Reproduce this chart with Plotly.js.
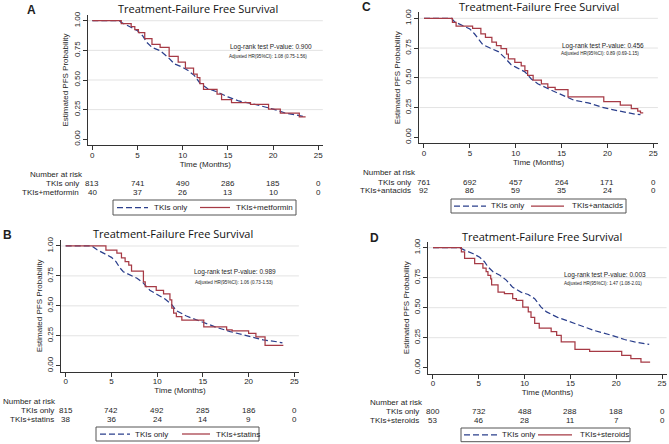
<!DOCTYPE html>
<html>
<head>
<meta charset="utf-8">
<script src="https://cdn.plot.ly/plotly-3.0.1.min.js"></script>
<style>html,body{margin:0;padding:0;background:#fff}#chart{width:669px;height:444px}</style>
</head>
<body>
<div id="chart"></div>
<script>
// ---------- DATA ----------
const timeTicks = [0, 5, 10, 15, 20, 25];
const probTicks = [0, 0.25, 0.5, 0.75, 1];
const probTickText = ['0.00', '0.25', '0.50', '0.75', '1.00'];
const gridVals = [0.25, 0.5, 0.75, 1];

// Panel A: TKIs only vs TKIs+metformin
const A_only_t = [0, 3.0, 3.2, 4.0, 5.0, 5.6, 6.0, 6.6, 7.5, 8.4, 9.1, 10.0, 10.6, 11.3, 11.9, 12.7, 13.8, 15.0, 16.2, 17.7, 18.8, 20.0, 21.4, 22.5, 23.6];
const A_only_s = [1, 1, 0.986, 0.952, 0.916, 0.87, 0.82, 0.775, 0.747, 0.69, 0.635, 0.607, 0.58, 0.537, 0.475, 0.43, 0.40, 0.357, 0.323, 0.30, 0.278, 0.255, 0.22, 0.205, 0.19];
const A_drug_t = [0, 3.2, 4.3, 4.7, 5.1, 5.8, 6.6, 7.5, 8.5, 9.5, 10.3, 11.2, 11.6, 11.9, 12.3, 13.8, 14.3, 15.4, 17.5, 19.5, 20.8, 22.9, 23.6];
const A_drug_s = [1, 0.975, 0.95, 0.925, 0.90, 0.85, 0.80, 0.775, 0.70, 0.65, 0.60, 0.55, 0.52, 0.47, 0.42, 0.38, 0.335, 0.31, 0.295, 0.255, 0.22, 0.19, 0.19];
const A_risk_only = [813, 741, 490, 286, 185, 0];
const A_risk_drug = [40, 37, 26, 13, 10, 0];

// Panel B: TKIs only vs TKIs+statins
const B_only_t = [0, 2.85, 3.4, 4.1, 5.0, 5.5, 5.9, 6.3, 7.0, 7.8, 8.5, 9.2, 10.0, 10.9, 11.6, 12.1, 13.2, 15.0, 16.5, 18.0, 20.0, 21.6, 23.1, 23.7];
const B_only_s = [1, 1, 0.97, 0.94, 0.905, 0.87, 0.82, 0.785, 0.76, 0.73, 0.69, 0.63, 0.595, 0.555, 0.51, 0.46, 0.415, 0.36, 0.32, 0.285, 0.245, 0.215, 0.20, 0.19];
const B_drug_t = [0, 4.4, 5.6, 6.1, 6.5, 6.9, 7.2, 8.5, 8.7, 9.9, 10.7, 11.4, 11.6, 11.8, 12.1, 12.7, 15.1, 17.6, 18.2, 20.0, 20.8, 21.8, 23.8];
const B_drug_s = [1, 0.965, 0.94, 0.90, 0.87, 0.84, 0.79, 0.70, 0.66, 0.63, 0.60, 0.55, 0.48, 0.44, 0.41, 0.38, 0.325, 0.30, 0.29, 0.27, 0.24, 0.17, 0.17];
const B_risk_only = [815, 742, 492, 285, 186, 0];
const B_risk_drug = [38, 36, 24, 14, 9, 0];

// Panel C: TKIs only vs TKIs+antacids
const C_only_t = [0, 3.0, 3.35, 4.1, 5.0, 5.5, 5.9, 6.4, 7.2, 8.1, 8.8, 9.5, 10.0, 11.0, 11.7, 12.4, 13.9, 15.0, 16.4, 17.9, 19.3, 20.4, 21.9, 23.0, 23.6];
const C_only_s = [1, 1, 0.97, 0.94, 0.91, 0.87, 0.83, 0.78, 0.75, 0.72, 0.67, 0.61, 0.59, 0.55, 0.49, 0.45, 0.395, 0.355, 0.31, 0.29, 0.255, 0.235, 0.21, 0.195, 0.19];
const C_drug_t = [0, 3.1, 3.5, 5.3, 6.2, 6.7, 7.4, 7.9, 8.4, 9.0, 9.2, 9.9, 10.6, 11.0, 11.3, 11.9, 12.8, 13.5, 14.3, 15.7, 19.6, 21.4, 22.6, 23.3, 23.6, 23.9];
const C_drug_s = [1, 0.965, 0.935, 0.915, 0.87, 0.84, 0.80, 0.77, 0.745, 0.70, 0.66, 0.63, 0.60, 0.56, 0.52, 0.48, 0.45, 0.42, 0.40, 0.34, 0.30, 0.27, 0.24, 0.22, 0.205, 0.205];
const C_risk_only = [761, 692, 457, 264, 171, 0];
const C_risk_drug = [92, 86, 59, 35, 24, 0];

// Panel D: TKIs only vs TKIs+steroids
const D_only_t = [0, 2.9, 3.45, 4.4, 5.1, 5.6, 6.0, 6.55, 7.3, 8.0, 8.7, 9.6, 10.4, 11.1, 11.8, 12.4, 13.6, 15.5, 17.6, 19.5, 20.9, 22.0, 23.6];
const D_only_s = [1, 1, 0.98, 0.95, 0.92, 0.885, 0.84, 0.80, 0.77, 0.73, 0.67, 0.63, 0.61, 0.575, 0.505, 0.465, 0.42, 0.37, 0.31, 0.27, 0.235, 0.215, 0.195];
const D_drug_t = [0, 3.1, 3.45, 4.55, 5.45, 5.8, 6.0, 6.3, 6.4, 7.1, 7.8, 8.7, 9.1, 9.8, 10.4, 10.7, 11.1, 11.6, 12.9, 13.5, 14.0, 15.5, 17.1, 20.6, 21.6, 22.7, 23.7];
const D_drug_s = [1, 0.965, 0.91, 0.867, 0.83, 0.80, 0.77, 0.74, 0.69, 0.63, 0.617, 0.575, 0.56, 0.505, 0.465, 0.42, 0.37, 0.33, 0.30, 0.27, 0.215, 0.153, 0.136, 0.103, 0.075, 0.047, 0.047];
const D_risk_only = [800, 732, 488, 288, 188, 0];
const D_risk_drug = [53, 46, 28, 11, 7, 0];

const onlyLabel = 'TKIs only';
const drugLabels = {A: 'TKIs+metformin', B: 'TKIs+statins', C: 'TKIs+antacids', D: 'TKIs+steroids'};
const pValues = {A: '0.900', B: '0.989', C: '0.456', D: '0.003'};
const hrText = {A: '1.08 (0.75-1.56)', B: '1.06 (0.73-1.53)', C: '0.89 (0.69-1.15)', D: '1.47 (1.08-2.01)'};
const titleText = 'Treatment-Failure Free Survival';

// ---------- STYLE / LAYOUT ----------
const W = 669, H = 444;
const BLUE = '#2b3f8c', RED = '#a63a45';
const ARIAL = 'Liberation Sans, Arial, sans-serif';
const TITLEFONT = 'Open Sans, Noto Sans, sans-serif';
const TXT = '#1e1e1e';
const fx = px => px / W;
const fy = py => 1 - py / H;

// panel geometry in pixels
const P = {
  A: {ax: '', left: 87.8, right: 322.8, top: 14.8, bottom: 145.2, letter: [31, 10], title: [198, 8], pv: [228, 47], hr: [227, 56.5],
      nar: [28, 174], rowR: 81, rows: [183, 192],
      box: [113, 200, 296, 215], s1: [117, 148], t1: 152, s2: [200, 230], t2: 234},
  B: {ax: '2', left: 61.1, right: 298.9, top: 240, bottom: 371.7, letter: [7, 235], title: [173, 233], pv: [192, 271.5], hr: [193, 282],
      nar: [1, 401], rowR: 56, rows: [410, 419],
      box: [96, 427, 259, 441], s1: [100, 130], t1: 133, s2: [182, 210], t2: 214},
  C: {ax: '3', left: 419.4, right: 657.9, top: 12.35, bottom: 143.25, letter: [366, 7], title: [539, 6.5], pv: [560, 46], hr: [559, 53.5],
      nar: [361, 172], rowR: 413, rows: [182, 191],
      box: [451, 199, 626, 213], s1: [454, 486], t1: 489, s2: [531, 564], t2: 570},
  D: {ax: '4', left: 428.4, right: 666.6, top: 241.7, bottom: 373.7, letter: [374, 238], title: [542, 236], pv: [562, 275], hr: [562, 283.5],
      nar: [368, 402], rowR: 421, rows: [411.5, 420],
      box: [461, 428, 630, 441.7], s1: [464, 497], t1: 500, s2: [538, 572], t2: 578}
};
const DATA = {
  A: [A_only_t, A_only_s, A_drug_t, A_drug_s, A_risk_only, A_risk_drug],
  B: [B_only_t, B_only_s, B_drug_t, B_drug_s, B_risk_only, B_risk_drug],
  C: [C_only_t, C_only_s, C_drug_t, C_drug_s, C_risk_only, C_risk_drug],
  D: [D_only_t, D_only_s, D_drug_t, D_drug_s, D_risk_only, D_risk_drug]
};

const traces = [];
const annotations = [];
const shapes = [];
const layout = {
  width: W, height: H,
  margin: {l: 0, r: 0, t: 0, b: 0},
  paper_bgcolor: '#ffffff', plot_bgcolor: '#ffffff',
  showlegend: false,
  font: {family: ARIAL, size: 8, color: TXT},
  annotations: annotations, shapes: shapes
};
const blueLine = {color: BLUE, width: 1.25, dash: '6px,3px'};
const redLine = {color: RED, width: 1.25};

function txt(x, y, text, anchor, size, extra) {
  return Object.assign({xref: 'paper', yref: 'paper', x: fx(x), y: fy(y), xanchor: anchor, yanchor: 'middle',
    text: text, showarrow: false, font: {family: ARIAL, size: size, color: TXT}}, extra || {});
}

Object.keys(P).forEach(k => {
  const p = P[k], d = DATA[k];
  const xa = 'x' + p.ax, ya = 'y' + p.ax;
  const xk = 'xaxis' + p.ax, yk = 'yaxis' + p.ax;
  traces.push({x: d[0], y: d[1], xaxis: xa, yaxis: ya, type: 'scatter', mode: 'lines', name: onlyLabel,
    line: Object.assign({shape: 'linear'}, blueLine), hoverinfo: 'skip'});
  traces.push({x: d[2], y: d[3], xaxis: xa, yaxis: ya, type: 'scatter', mode: 'lines', name: drugLabels[k],
    line: Object.assign({shape: 'hv'}, redLine), hoverinfo: 'skip'});

  layout[xk] = {domain: [fx(p.left), fx(p.right)], range: [-0.5, 25.5], anchor: ya,
    tickvals: timeTicks, ticktext: timeTicks.map(String), ticks: 'outside', ticklen: 4, tickcolor: '#333', tickwidth: 1,
    ticklabelstandoff: -2,
    showline: true, linecolor: '#333', linewidth: 1, showgrid: false, zeroline: false,
    tickfont: {family: ARIAL, size: 8, color: TXT},
    title: {text: 'Time (Months)', font: {family: ARIAL, size: 8, color: TXT}, standoff: 0}};
  layout[yk] = {domain: [fy(p.bottom), fy(p.top)], range: [-0.05, 1.05], anchor: xa,
    tickvals: probTicks, ticktext: probTickText, tickangle: -90, ticks: 'outside', ticklen: 4, tickcolor: '#333', tickwidth: 1,
    showline: true, linecolor: '#333', linewidth: 1, showgrid: false, zeroline: false,
    tickfont: {family: ARIAL, size: 8, color: TXT},
    title: {text: 'Estimated PFS Probability', font: {family: ARIAL, size: 8, color: TXT}, standoff: 2}};

  gridVals.forEach(v => shapes.push({type: 'line', xref: xa + ' domain', yref: ya, x0: 0, x1: 1, y0: v, y1: v,
    line: {color: '#e3e3e3', width: 1}, layer: 'below'}));

  // panel letter and title
  annotations.push(txt(p.letter[0], p.letter[1], '<b>' + k + '</b>', 'center', 12));
  annotations.push(txt(p.title[0], p.title[1], titleText, 'center', 11, {font: {family: TITLEFONT, size: 11, color: '#111'}}));
  // statistics text
  annotations.push(txt(p.pv[0], p.pv[1], 'Log-rank test P-value: ' + pValues[k], 'left', 6.5));
  annotations.push(txt(p.hr[0], p.hr[1], 'Adjusted HR(95%CI): ' + hrText[k], 'left', 4.6));
  // number at risk table
  annotations.push(txt(p.nar[0], p.nar[1], 'Number at risk', 'left', 8));
  [[onlyLabel, d[4]], [drugLabels[k], d[5]]].forEach((row, ri) => {
    annotations.push(txt(p.rowR, p.rows[ri], row[0], 'right', 8));
    row[1].forEach((n, i) => annotations.push({xref: xa, yref: 'paper', x: timeTicks[i], y: fy(p.rows[ri]),
      xanchor: 'center', yanchor: 'middle', text: String(n), showarrow: false, font: {family: ARIAL, size: 8, color: TXT}}));
  });

  // legend (box, line samples, labels)
  const ly = (p.box[1] + p.box[3]) / 2;
  shapes.push({type: 'rect', xref: 'paper', yref: 'paper', x0: fx(p.box[0]), x1: fx(p.box[2]), y0: fy(p.box[3]), y1: fy(p.box[1]),
    line: {color: '#555', width: 1}, fillcolor: '#ffffff', layer: 'above'});
  shapes.push({type: 'line', xref: 'paper', yref: 'paper', x0: fx(p.s1[0]), x1: fx(p.s1[1]), y0: fy(ly), y1: fy(ly),
    line: blueLine, layer: 'above'});
  shapes.push({type: 'line', xref: 'paper', yref: 'paper', x0: fx(p.s2[0]), x1: fx(p.s2[1]), y0: fy(ly), y1: fy(ly),
    line: redLine, layer: 'above'});
  annotations.push(txt(p.t1, ly, onlyLabel, 'left', 8));
  annotations.push(txt(p.t2, ly, drugLabels[k], 'left', 8));
});

Plotly.newPlot('chart', traces, layout, {staticPlot: true, displayModeBar: false});
</script>
</body>
</html>
